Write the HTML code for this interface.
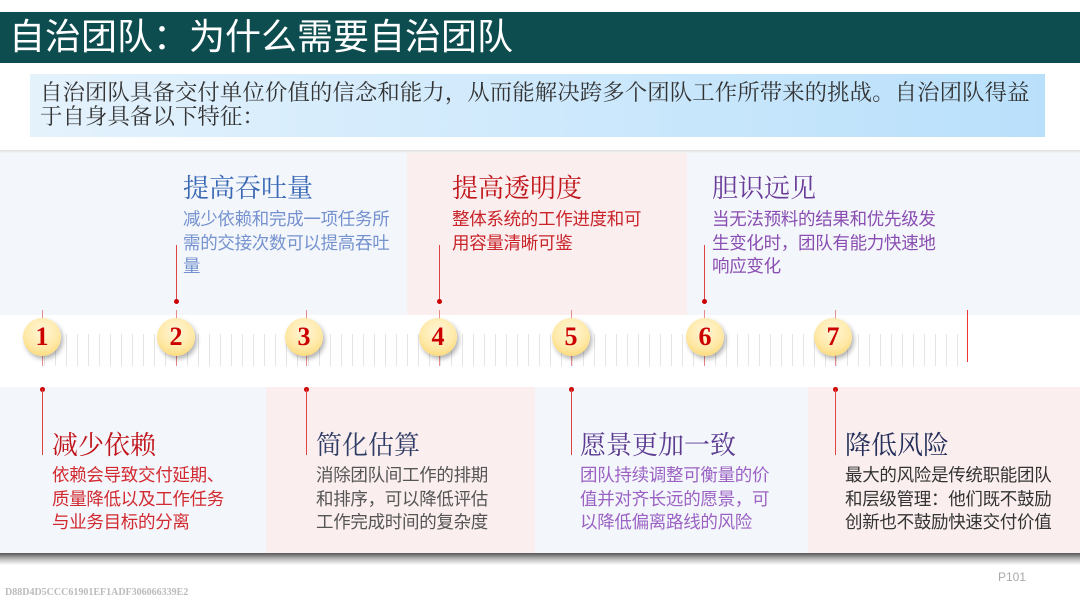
<!DOCTYPE html>
<html><head><meta charset="utf-8"><style>
*{margin:0;padding:0;box-sizing:border-box}
body{width:1080px;height:607px;position:relative;background:#fff;overflow:hidden;font-family:"Liberation Sans","Noto Sans CJK SC",sans-serif}
.a{position:absolute}
.t{font-size:26px;line-height:32px;white-space:nowrap;font-family:"Liberation Serif","Noto Serif CJK SC",serif}
.d{font-size:17.5px;line-height:23.5px;white-space:nowrap;letter-spacing:-0.3px}
.c{position:absolute;width:38px;height:38px;border-radius:50%;background:radial-gradient(circle at 50% 35%,#fff6d8 0%,#ffe9a8 55%,#f8cf5a 100%);box-shadow:2px 3px 5px rgba(0,0,0,.3);color:#c00;font:900 26px/38px "Liberation Serif",serif;text-align:center;top:318px}
.v{position:absolute;width:1px;background:#d44}
.dot{position:absolute;width:5px;height:5px;border-radius:50%;background:#c00}
</style></head><body>
<div class="a" style="left:0;top:12px;width:1080px;height:51px;background:#0e4d4f"></div>
<div class="a" style="left:9px;top:14px;color:#fff;font-size:36px;line-height:46px;white-space:nowrap">自治团队：为什么需要自治团队</div>
<div class="a" style="left:30px;top:74px;width:1015px;height:63px;background:linear-gradient(90deg,#e4f2fc,#b9e0fb)"></div>
<div class="a" style="left:40px;top:81px;color:#333;font-size:22.4px;line-height:24px;font-family:'Liberation Serif','Noto Serif CJK SC',serif;white-space:nowrap;letter-spacing:0.1px">自治团队具备交付单位价值的信念和能力，从而能解决跨多个团队工作所带来的挑战。自治团队得益<br>于自身具备以下特征：</div>
<div class="a" style="left:0;top:150px;width:1080px;height:4px;background:linear-gradient(#ddd,#fff)"></div>
<div class="a" style="left:0;top:153px;width:407px;height:162px;background:#f3f6fb"></div>
<div class="a" style="left:407px;top:153px;width:280px;height:162px;background:#faeeee"></div>
<div class="a" style="left:687px;top:153px;width:393px;height:162px;background:#f3f6fb"></div>
<div class="a" style="left:0;top:387px;width:266px;height:166px;background:#f3f6fb"></div>
<div class="a" style="left:266px;top:387px;width:269px;height:166px;background:#faeeee"></div>
<div class="a" style="left:535px;top:387px;width:273px;height:166px;background:#f3f6fb"></div>
<div class="a" style="left:808px;top:387px;width:272px;height:166px;background:#faeeee"></div>
<div class="a" style="left:0;top:553px;width:1080px;height:12px;background:linear-gradient(#555,#bbb 50%,#fff)"></div>
<div class="a" style="left:44px;top:334px;width:918px;height:32px;background:repeating-linear-gradient(90deg,#e4e4e4 0 1px,transparent 1px 11px)"></div>
<div class="a" style="left:967px;top:310px;width:1px;height:52px;background:#e33"></div>
<div class="v" style="left:42px;top:310px;height:56px;opacity:.6"></div><div class="dot" style="left:40px;top:387px"></div><div class="v" style="left:42px;top:389px;height:66px"></div>
<div class="v" style="left:176px;top:245px;height:56px"></div><div class="dot" style="left:174px;top:299px"></div><div class="v" style="left:176px;top:310px;height:56px;opacity:.6"></div>
<div class="v" style="left:306px;top:310px;height:56px;opacity:.6"></div><div class="dot" style="left:304px;top:387px"></div><div class="v" style="left:306px;top:389px;height:66px"></div>
<div class="v" style="left:439px;top:245px;height:56px"></div><div class="dot" style="left:437px;top:299px"></div><div class="v" style="left:439px;top:310px;height:56px;opacity:.6"></div>
<div class="v" style="left:571px;top:310px;height:56px;opacity:.6"></div><div class="dot" style="left:569px;top:387px"></div><div class="v" style="left:571px;top:389px;height:66px"></div>
<div class="v" style="left:704px;top:245px;height:56px"></div><div class="dot" style="left:702px;top:299px"></div><div class="v" style="left:704px;top:310px;height:56px;opacity:.6"></div>
<div class="v" style="left:835px;top:310px;height:56px;opacity:.6"></div><div class="dot" style="left:833px;top:387px"></div><div class="v" style="left:835px;top:389px;height:66px"></div>
<div class="c" style="left:23px">1</div>
<div class="c" style="left:157px">2</div>
<div class="c" style="left:285px">3</div>
<div class="c" style="left:419px">4</div>
<div class="c" style="left:552px">5</div>
<div class="c" style="left:686px">6</div>
<div class="c" style="left:814px">7</div>
<div class="a t" style="left:183px;top:173px;color:#3a68b5">提高吞吐量</div>
<div class="a d" style="left:183px;top:208px;color:#7592cf">减少依赖和完成一项任务所<br>需的交接次数可以提高吞吐<br>量</div>
<div class="a t" style="left:452px;top:173px;color:#c0161c">提高透明度</div>
<div class="a d" style="left:452px;top:208px;color:#c8242a">整体系统的工作进度和可<br>用容量清晰可鉴</div>
<div class="a t" style="left:712px;top:173px;color:#6a3c98">胆识远见</div>
<div class="a d" style="left:712px;top:208px;color:#8a4eb2">当无法预料的结果和优先级发<br>生变化时，团队有能力快速地<br>响应变化</div>
<div class="a t" style="left:52px;top:430px;color:#c0141a">减少依赖</div>
<div class="a d" style="left:52px;top:464px;color:#d12a30">依赖会导致交付延期、<br>质量降低以及工作任务<br>与业务目标的分离</div>
<div class="a t" style="left:316px;top:430px;color:#2f3d66">简化估算</div>
<div class="a d" style="left:316px;top:464px;color:#555">消除团队间工作的排期<br>和排序，可以降低评估<br>工作完成时间的复杂度</div>
<div class="a t" style="left:580px;top:430px;color:#5c3b91">愿景更加一致</div>
<div class="a d" style="left:580px;top:464px;color:#9b62c4">团队持续调整可衡量的价<br>值并对齐长远的愿景，可<br>以降低偏离路线的风险</div>
<div class="a t" style="left:845px;top:430px;color:#25305a">降低风险</div>
<div class="a d" style="left:845px;top:464px;color:#333">最大的风险是传统职能团队<br>和层级管理：他们既不鼓励<br>创新也不鼓励快速交付价值</div>
<div class="a" style="left:998px;top:570px;font-size:12px;color:#aaa">P101</div>
<div class="a" style="left:5px;top:587px;font:bold 10px 'Liberation Serif',serif;color:#bbb">D88D4D5CCC61901EF1ADF306066339E2</div>
</body></html>
